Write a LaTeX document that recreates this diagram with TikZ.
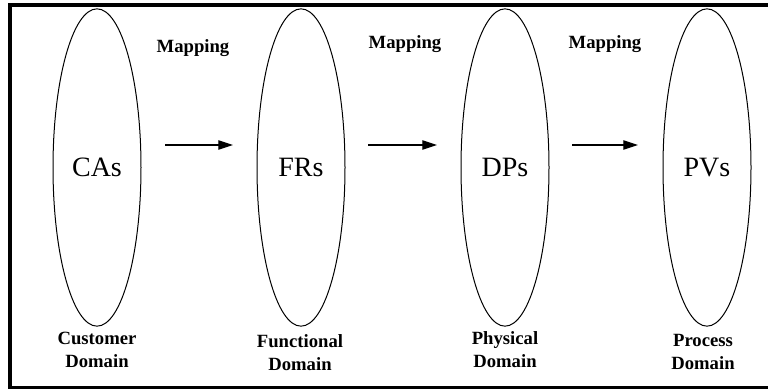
\documentclass[tikz,border=0pt]{standalone}
\usepackage{fontspec}
\setmainfont{Liberation Serif}
\usetikzlibrary{shapes.geometric,arrows.meta}

\tikzset{
  domainbox/.style={draw, ellipse, line width=0.75pt, inner sep=0pt,
    minimum width=66pt, minimum height=238pt,
    font=\fontsize{21}{25}\selectfont},
  maplabel/.style={anchor=base, font=\bfseries\fontsize{14}{17}\selectfont},
  domlabel/.style={anchor=base, align=center, font=\bfseries\fontsize{14}{17}\selectfont},
  maparrow/.style={line width=0.9pt, -{Triangle[length=11pt,width=7pt]}}
}

\begin{document}
\begin{tikzpicture}[x=0.75pt,y=0.75pt,yscale=-1,xscale=1]
\useasboundingbox (0,0) rectangle (768,389);
\clip (0,0) rectangle (768,389);

%Shape: Frame
\draw [line width=3pt] (10,5) -- (775,5) -- (775,387.5) -- (10,387.5) -- cycle ;

%Shape: Ellipses
\draw (97,167.5) node [domainbox] (ca) {CAs};
\draw (301,167.5) node [domainbox] (fr) {FRs};
\draw (505,167.5) node [domainbox] (dp) {DPs};
\draw (707,167.5) node [domainbox] (pv) {PVs};

%Straight Lines
\coordinate (m1s) at (165,145);
\coordinate (m1e) at (233,145);
\coordinate (m2s) at (368,145);
\coordinate (m2e) at (437,145);
\coordinate (m3s) at (572,145);
\coordinate (m3e) at (638,145);
\draw [maparrow] (m1s) -- (m1e) ;
\draw [maparrow] (m2s) -- (m2e) ;
\draw [maparrow] (m3s) -- (m3e) ;

% Text Node
\draw (193,52) node [maplabel] (map1) {Mapping};
% Text Node
\draw (405,48) node [maplabel] (map2) {Mapping};
% Text Node
\draw (605,48) node [maplabel] (map3) {Mapping};

% Text Node (base = last line)
\draw (97,367) node [domlabel] (cdom) {Customer\\Domain};
% Text Node
\draw (300,370) node [domlabel] (fdom) {Functional\\Domain};
% Text Node
\draw (505,367) node [domlabel] (pdom) {Physical\\Domain};
% Text Node
\draw (703,369) node [domlabel] (prdom) {Process\\Domain};

\end{tikzpicture}
\end{document}
